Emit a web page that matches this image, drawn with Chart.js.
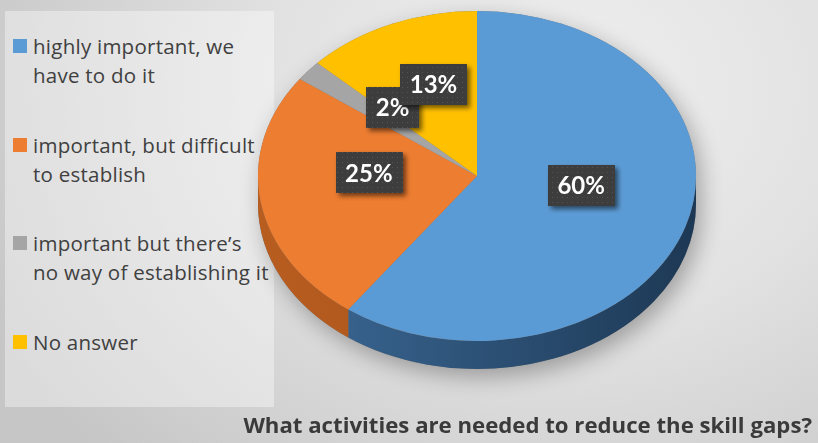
<!DOCTYPE html>
<html>
<head>
<meta charset="utf-8">
<script src="https://cdn.jsdelivr.net/npm/chart.js@4.4.1/dist/chart.umd.min.js"></script>
<style>
  body { margin: 0; }
  #wrap {
    position: relative; width: 818px; height: 443px; overflow: hidden;
    background: radial-gradient(ellipse 640px 520px at 560px 90px, #efefef 0%, #e2e2e2 45%, #c6c6c6 100%);
    font-family: "Open Sans", Lato, sans-serif; color: #404040;
  }
  #panel { position: absolute; left: 5px; top: 11px; width: 269px; height: 396px; background: rgba(255,255,255,0.38); }
  #legend { position: absolute; left: 13px; top: 32px; }
  .item { display: flex; align-items: flex-start; height: 98.5px; }
  .box { width: 14px; height: 14px; margin-top: 7px; margin-right: 6px; flex: none; }
  .txt { font-size: 20.5px; letter-spacing: 0.25px; line-height: 29px; white-space: nowrap; }
  #skillChart { position: absolute; left: 0; top: 0; }
  #title { position: absolute; right: 6px; top: 410px; font-size: 22.2px; line-height: 30px; font-weight: 700; white-space: nowrap; color: #3a3a3a; }
</style>
</head>
<body>
<div id="wrap">
  <div id="panel"></div>
  <div id="legend"></div>
  <canvas id="skillChart" width="818" height="443"></canvas>
  <div id="title"></div>
</div>
<script>
// answers and their shares (%)
const categories = [
    ['highly important, we', 'have to do it'],
    ['important, but difficult', 'to establish'],
    ['important but there\u2019s', 'no way of establishing it'],
    ['No answer']
];
const shares = [60, 25, 2, 13];
const sliceColors = ['#5b9bd5', '#ed7d31', '#a5a5a5', '#ffc000'];
const sideColors = [['#3d6c9a', '#1d3854'], ['#b85d20', '#9c4b16'], ['#777777', '#5c5c5c'], ['#bf9000', '#a07800']];
const chartTitle = 'What activities are needed to reduce the skill gaps?';

// tilt settings for the fake 3D look
const tilt = 165 / 219;
const pieCenterY = 176;
const depth = 28;
const apexLift = 16;

// legend on the left
const legendEl = document.getElementById('legend');
categories.forEach((lines, i) => {
    const item = document.createElement('div');
    item.className = 'item';
    item.innerHTML = `<div class="box" style="background:${sliceColors[i]}"></div><div class="txt">${lines.join('<br>')}</div>`;
    legendEl.appendChild(item);
});
document.getElementById('title').textContent = chartTitle;

// dotted fill for the value boxes
const dotCanvas = document.createElement('canvas');
dotCanvas.width = 5; dotCanvas.height = 5;
const dctx = dotCanvas.getContext('2d');
dctx.fillStyle = '#3d3d3d';
dctx.fillRect(0, 0, 5, 5);
dctx.fillStyle = '#545454';
dctx.fillRect(2, 2, 1, 1);

const pie3d = {
    id: 'pie3d',
    beforeDatasetsDraw(chart) {
        const ctx = chart.ctx;
        const meta = chart.getDatasetMeta(0);
        const { x, outerRadius } = meta.data[0].getProps(['x', 'outerRadius'], true);
        const rx = outerRadius, ry = outerRadius * tilt;

        // shadow under the whole pie
        ctx.save();
        ctx.shadowColor = 'rgba(0,0,0,0.3)';
        ctx.shadowBlur = 22;
        ctx.shadowOffsetX = 5;
        ctx.shadowOffsetY = 8;
        ctx.beginPath();
        ctx.ellipse(x, pieCenterY + depth, rx, ry, 0, 0, Math.PI);
        ctx.ellipse(x, pieCenterY, rx, ry, 0, Math.PI, 2 * Math.PI);
        ctx.closePath();
        ctx.fillStyle = '#777';
        ctx.fill();
        ctx.restore();

        // front walls of the slices
        meta.data.forEach((arc, i) => {
            const a0 = Math.max(arc.startAngle, 0);
            const a1 = Math.min(arc.endAngle, Math.PI);
            if (a1 <= a0) return;
            const grad = ctx.createLinearGradient(x - rx, 0, x + rx, 0);
            grad.addColorStop(0, sideColors[i][0]);
            grad.addColorStop(1, sideColors[i][1]);
            ctx.beginPath();
            ctx.ellipse(x, pieCenterY, rx, ry, 0, a0, a1);
            ctx.ellipse(x, pieCenterY + depth, rx, ry, 0, a1, a0, true);
            ctx.closePath();
            ctx.fillStyle = grad;
            ctx.fill();
        });

        // squash the top face
        const cy = meta.data[0].y;
        ctx.save();
        ctx.translate(0, pieCenterY - cy * tilt);
        ctx.scale(1, tilt);
    },
    afterDatasetsDraw(chart) {
        const ctx = chart.ctx;
        ctx.restore();
        const meta = chart.getDatasetMeta(0);
        const cy = meta.data[0].y;
        const pattern = ctx.createPattern(dotCanvas, 'repeat');
        ctx.save();
        ctx.font = 'bold 24px Lato';
        ctx.textAlign = 'center';
        ctx.textBaseline = 'middle';
        meta.data.forEach((arc, i) => {
            const p = arc.tooltipPosition();
            const lx = p.x;
            const ly = pieCenterY + (p.y - cy) * tilt - apexLift;
            const text = shares[i] + '%';
            const w = ctx.measureText(text).width + 19;
            const h = 41;
            ctx.save();
            ctx.shadowColor = 'rgba(0,0,0,0.55)';
            ctx.shadowBlur = 5;
            ctx.shadowOffsetX = 3;
            ctx.shadowOffsetY = 3;
            ctx.fillStyle = pattern;
            ctx.fillRect(Math.round(lx - w / 2), Math.round(ly - h / 2), Math.round(w), h);
            ctx.restore();
            ctx.fillStyle = '#ffffff';
            ctx.fillText(text, lx, ly + 1);
        });
        ctx.restore();
    }
};

const ctx = document.getElementById('skillChart').getContext('2d');
const skillChart = new Chart(ctx, {
    type: 'pie',
    data: {
        labels: categories,
        datasets: [{
            data: shares,
            backgroundColor: sliceColors,
            borderWidth: 0,
            hoverOffset: 0
        }]
    },
    options: {
        responsive: false,
        devicePixelRatio: 1,
        animation: false,
        events: [],
        layout: { padding: { left: 258, right: 122, top: 0, bottom: 5 } },
        plugins: {
            legend: { display: false },
            tooltip: { enabled: false }
        }
    },
    plugins: [pie3d]
});
</script>
</body>
</html>
